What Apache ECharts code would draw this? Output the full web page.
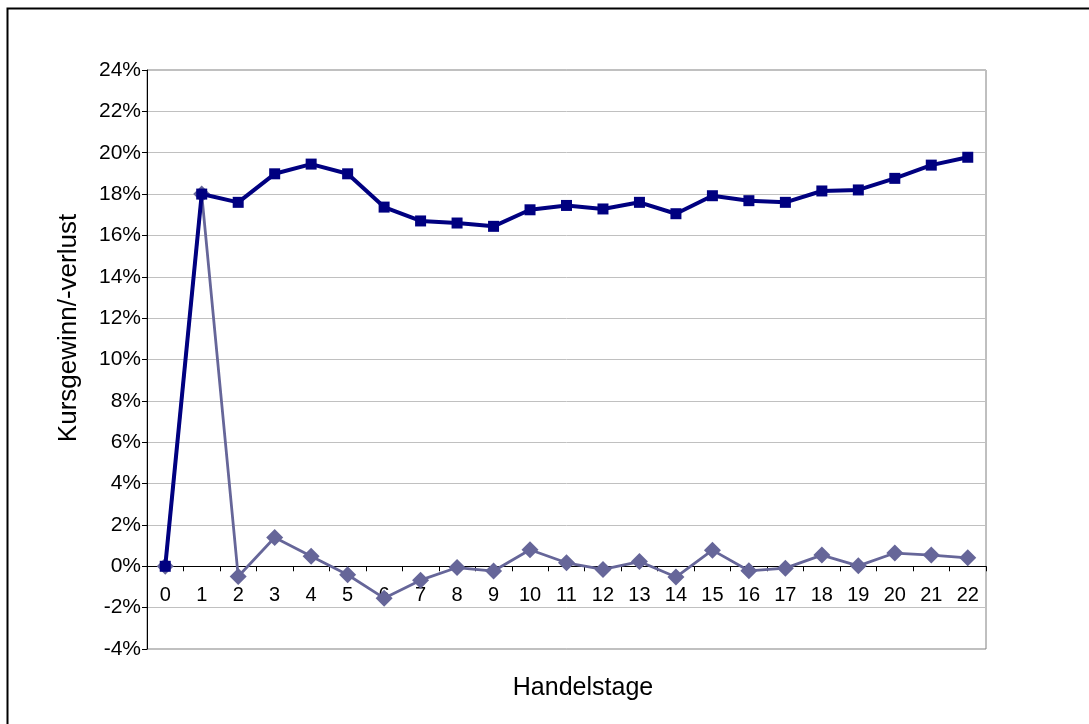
<!DOCTYPE html>
<html>
<head>
<meta charset="utf-8">
<script src="https://cdn.jsdelivr.net/npm/echarts@6/dist/echarts.min.js"></script>
<style>
html,body{margin:0;padding:0;background:#fff;}
#c{width:1089px;height:724px;}
</style>
</head>
<body>
<div id="c"></div>
<script>
const categories = ['0','1','2','3','4','5','6','7','8','9','10','11','12','13','14','15','16','17','18','19','20','21','22'];
const seriesCumulative = [0, 18.0, 17.6, 18.98, 19.45, 18.98, 17.37, 16.7, 16.6, 16.44, 17.24, 17.45, 17.28, 17.6, 17.05, 17.92, 17.68, 17.6, 18.15, 18.2, 18.76, 19.4, 19.78];
const seriesDaily = [0, 18.0, -0.49, 1.39, 0.49, -0.41, -1.54, -0.67, -0.06, -0.23, 0.8, 0.17, -0.15, 0.23, -0.52, 0.78, -0.22, -0.09, 0.54, 0.02, 0.64, 0.54, 0.41];
const yMin = -4, yMax = 24, yStep = 2;
const xTitle = 'Handelstage';
const yTitle = 'Kursgewinn/-verlust';

const gridTop = 70, gridH = 579;
// place the category axis on the 0% line
const zeroOffset = -gridH * (0 - yMin) / (yMax - yMin);

const chart = echarts.init(document.getElementById('c'), null, {renderer:'canvas'});
const font = 'Liberation Sans, Arial, sans-serif';
chart.setOption({
  animation:false,
  backgroundColor:'#fff',
  graphic:[
    {type:'rect', shape:{x:7.5,y:8.5,width:1200,height:800}, style:{fill:'none', stroke:'#000', lineWidth:2}, z:-1},
    {type:'text', x:583, y:688, style:{text:xTitle, font:'25px ' + font, fill:'#000', align:'center', verticalAlign:'middle'}},
    {type:'text', x:69, y:328, rotation:Math.PI/2, style:{text:yTitle, font:'26px ' + font, fill:'#000', align:'center', verticalAlign:'middle'}}
  ],
  grid:{left:147, top:gridTop, width:839, height:gridH, show:true, borderColor:'#808080', borderWidth:1,
        backgroundColor:'transparent', containLabel:false, outerBoundsMode:'none'},
  xAxis:{
    type:'category', data:categories, boundaryGap:true,
    offset: zeroOffset,
    axisLine:{onZero:false, lineStyle:{color:'#000', width:1}},
    axisTick:{show:true, length:5, inside:false, lineStyle:{color:'#000'}},
    axisLabel:{fontFamily:font, fontSize:20, color:'#000', margin:19, interval:0},
    splitLine:{show:false}
  },
  yAxis:{
    type:'value', min:yMin, max:yMax, interval:yStep,
    axisLine:{show:true, onZero:false, lineStyle:{color:'#000', width:1}},
    axisTick:{show:true, length:5, lineStyle:{color:'#000'}},
    axisLabel:{fontFamily:font, fontSize:21, color:'#000', margin:6, formatter:'{value}%'},
    splitLine:{show:true, lineStyle:{color:'#c0c0c0', width:1}}
  },
  series:[
    {type:'line', data:seriesDaily, symbol:'diamond', symbolSize:[17,17], showAllSymbol:true,
     lineStyle:{color:'#666699', width:2.8}, itemStyle:{color:'#666699'}, z:2},
    {type:'line', data:seriesCumulative, symbol:'rect', symbolSize:[11,11], showAllSymbol:true,
     lineStyle:{color:'#000080', width:4}, itemStyle:{color:'#000080'}, z:3}
  ]
});
</script>
</body>
</html>
